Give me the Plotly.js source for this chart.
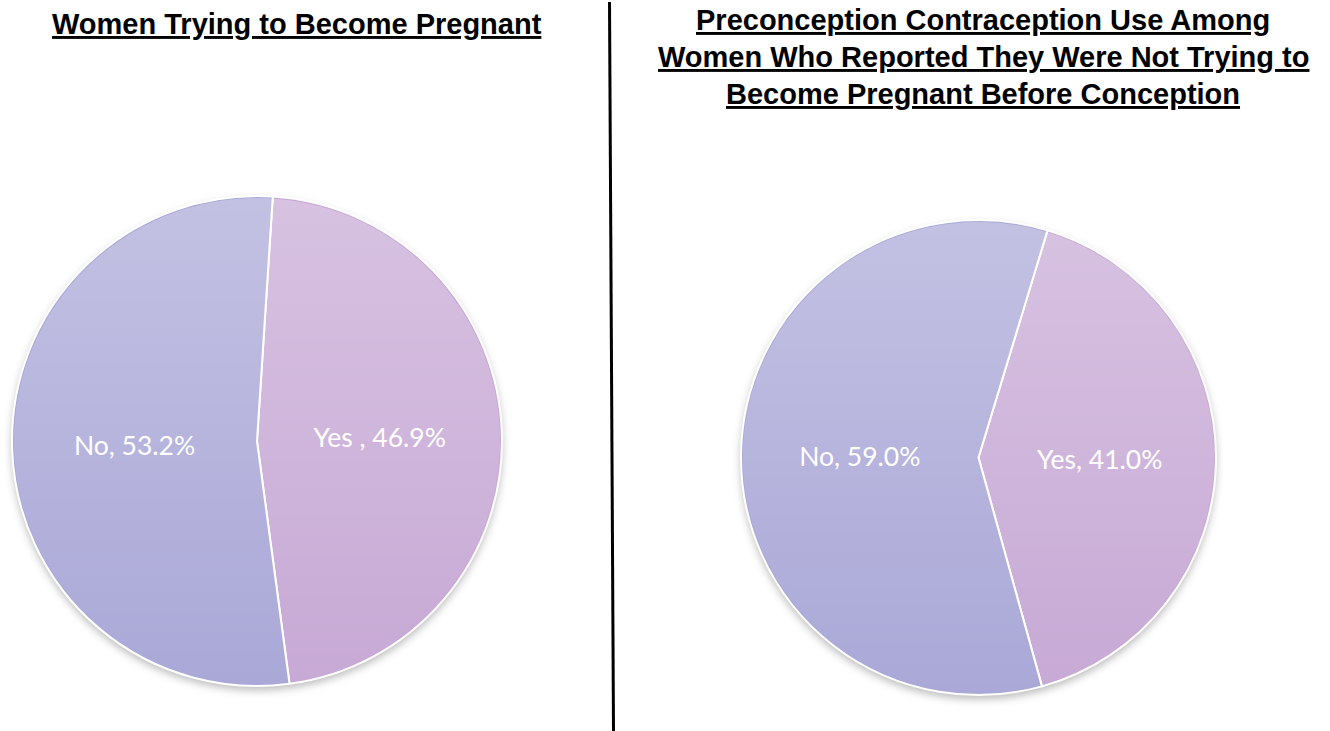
<!DOCTYPE html>
<html>
<head>
<meta charset="utf-8">
<script src="https://cdn.plot.ly/plotly-3.0.1.min.js"></script>
<style>html,body{margin:0;padding:0;background:#fff}#chart{width:1330px;height:731px}</style>
</head>
<body>
<div id="chart"></div>
<script>
// Data
const labelsTrying = ["Yes\u00a0", "No"];
const valuesTrying = [46.9, 53.2];
const labelsContra = ["Yes", "No"];
const valuesContra = [41.0, 59.0];
const titleTrying = "Women Trying to Become Pregnant";
const titleContraLines = [
  "Preconception Contraception Use Among",
  "Women Who Reported They Were Not Trying to",
  "Become Pregnant Before Conception"
];
const sliceColors = ["#c7a9d5", "#aaa8d7"];

const W = 1330, H = 731;
const px = x => x / W;
const py = y => 1 - y / H;

// pie boxes in pixels: [left, top, right, bottom]
const box1 = [12, 196, 502, 686];
const box2 = [741, 220, 1216, 695];

const common = {
  type: "pie",
  sort: false,
  direction: "clockwise",
  textposition: "inside",
  insidetextorientation: "horizontal",
  texttemplate: "%{label}, %{value:.1f}%",
  textfont: {family: "Lato, 'Open Sans', sans-serif", size: 26.5, color: "#ffffff"},
  marker: {colors: sliceColors, line: {color: "#ffffff", width: 2}},
  hoverinfo: "none",
  showlegend: false
};

const dom = b => ({x: [px(b[0]), px(b[2])], y: [py(b[3]), py(b[1])]});

const data = [
  Object.assign({}, common, {labels: labelsTrying, values: valuesTrying, rotation: 3.7, domain: dom(box1)}),
  Object.assign({}, common, {labels: labelsContra, values: valuesContra, rotation: 16.9, domain: dom(box2)})
];

const titleFont = {family: "'Liberation Sans', Arial, sans-serif", size: 29, color: "#000000", weight: "bold"};
const annotations = [
  {text: "<b><u>" + titleTrying + "</u></b>", x: px(297), y: py(24)}
].concat(titleContraLines.map((t, i) => ({text: "<b><u>" + t + "</u></b>", x: px(983), y: py(20 + i * 37)})))
 .map(a => Object.assign(a, {xref: "paper", yref: "paper", xanchor: "center", yanchor: "middle", showarrow: false, font: titleFont}));

// decorative shading (gradient + soft shadow) as in the original
const svgURI = s => "data:image/svg+xml;charset=utf-8," + encodeURIComponent(s);
const gradSVG = svgURI("<svg xmlns='http://www.w3.org/2000/svg' viewBox='0 0 100 100' preserveAspectRatio='none'><defs><linearGradient id='g' x1='0' y1='0' x2='0' y2='1'><stop offset='0' stop-color='#fff' stop-opacity='0.29'/><stop offset='1' stop-color='#fff' stop-opacity='0'/></linearGradient></defs><circle cx='50' cy='50' r='49.6' fill='url(#g)'/></svg>");
function shadowImg(b) {
  const pad = 14, w = b[2] - b[0] + 2 * pad, h = b[3] - b[1] + 2 * pad, r = (b[2] - b[0]) / 2;
  const s = "<svg xmlns='http://www.w3.org/2000/svg' width='" + w + "' height='" + h + "' viewBox='0 0 " + w + " " + h + "'><defs><filter id='f' x='-20%' y='-20%' width='140%' height='140%'><feGaussianBlur stdDeviation='4'/></filter></defs><circle cx='" + (w / 2) + "' cy='" + (h / 2 + 4) + "' r='" + r + "' fill='#000' fill-opacity='0.28' filter='url(#f)'/></svg>";
  return {source: svgURI(s), xref: "paper", yref: "paper", x: px(b[0] - pad), y: py(b[1] - pad), sizex: w / W, sizey: h / H, xanchor: "left", yanchor: "top", sizing: "stretch", layer: "below"};
}
function gradImg(b) {
  return {source: gradSVG, xref: "paper", yref: "paper", x: px(b[0]), y: py(b[1]), sizex: (b[2] - b[0]) / W, sizey: (b[3] - b[1]) / H, xanchor: "left", yanchor: "top", sizing: "stretch", layer: "above", opacity: 1};
}

const layout = {
  width: W, height: H,
  margin: {l: 0, r: 0, t: 0, b: 0},
  paper_bgcolor: "#ffffff",
  plot_bgcolor: "rgba(0,0,0,0)",
  annotations: annotations,
  images: [shadowImg(box1), shadowImg(box2), gradImg(box1), gradImg(box2)],
  shapes: [{type: "line", xref: "paper", yref: "paper", x0: px(609.5), y0: py(2), x1: px(613.5), y1: py(731), line: {color: "#000000", width: 3}}]
};

Plotly.newPlot("chart", data, layout, {displayModeBar: false, staticPlot: true});
</script>
</body>
</html>
